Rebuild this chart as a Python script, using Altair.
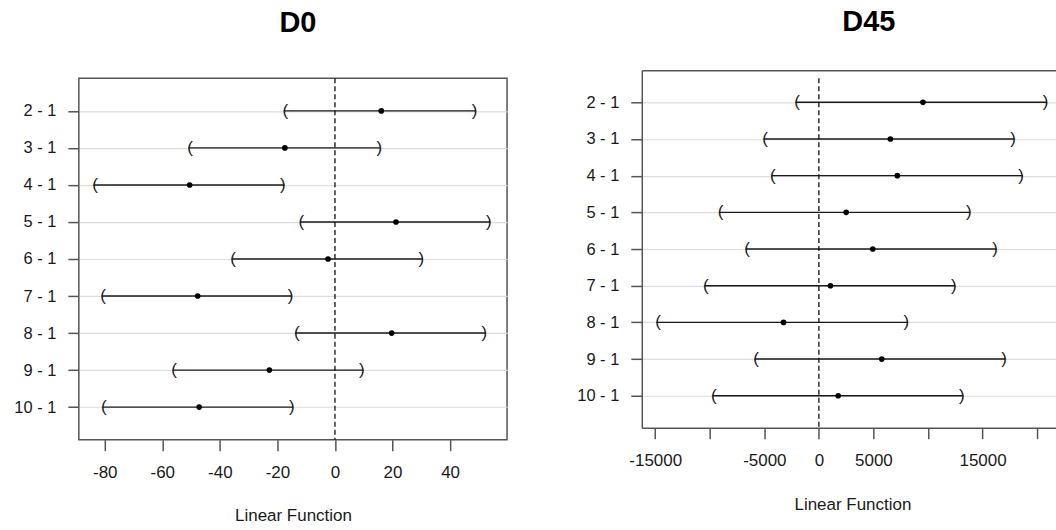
import altair as alt
import pandas as pd

comparisons = ["2 - 1", "3 - 1", "4 - 1", "5 - 1", "6 - 1", "7 - 1", "8 - 1", "9 - 1", "10 - 1"]

d0_est = [16.1, -17.4, -50.5, 21.2, -2.4, -47.7, 19.7, -22.8, -47.2]
d0_lwr = [-17.8, -50.9, -83.9, -12.2, -35.9, -81.1, -13.8, -56.4, -80.8]
d0_upr = [49.0, 15.9, -17.6, 54.0, 30.5, -14.9, 52.4, 9.9, -14.5]

d45_est = [9540, 6550, 7190, 2500, 4940, 1060, -3240, 5760, 1770]
d45_lwr = [-2140, -5060, -4360, -9150, -6710, -10490, -14880, -5890, -9760]
d45_upr = [20910, 17930, 18660, 13870, 16280, 12500, 8140, 17100, 13230]

d0_ticks = [-80, -60, -40, -20, 0, 20, 40]
d45_ticks = [-15000, -10000, -5000, 0, 5000, 10000, 15000, 20000]
d45_hidden = [-10000, 10000, 20000]

FONT = "Liberation Sans"
FRAME = "#555555"
TXT = "#1a1a1a"


def panel(title, est, lwr, upr, domain, ticks, hidden, width, height, pad,
          title_offset, title_dx, title_x, label_pad, title_pad, framed,
          yrange=None, top_offset=0):
    df = pd.DataFrame({"comp": comparisons, "est": est, "lwr": lwr, "upr": upr})
    zero = pd.DataFrame({"zero": [0]})

    xscale = alt.Scale(domain=domain, nice=False, zero=False)
    if yrange is None:
        yscale = alt.Scale(type="point", padding=pad)
    else:
        yscale = alt.Scale(type="point", padding=pad, range=yrange)

    if hidden:
        cond = " || ".join(f"datum.value == {h}" for h in hidden)
        label_expr = f"({cond}) ? '' : '' + datum.value"
    else:
        label_expr = "'' + datum.value"

    xaxis = alt.Axis(
        values=ticks, labelExpr=label_expr, title="Linear Function",
        titleFont=FONT, titleFontSize=17, titleFontWeight="normal", titleColor=TXT,
        labelFont=FONT, labelFontSize=17, labelColor=TXT, labelPadding=label_pad,
        tickSize=11, tickColor=FRAME, tickWidth=1.5, grid=False,
        domain=not framed, domainColor=FRAME, domainWidth=1.5,
        minExtent=40, maxExtent=40, titlePadding=title_pad,
        titleX=title_x, labelFlush=False, labelOverlap=False,
    )
    yaxis = alt.Axis(
        title=None, labelFont=FONT, labelFontSize=16.5, labelColor=TXT,
        labelPadding=12, tickSize=11, tickColor=FRAME, tickWidth=1.5,
        grid=True, gridColor="#dddddd", gridWidth=1.2,
        domain=not framed, domainColor=FRAME, domainWidth=1.5,
    )
    other_x = xaxis if framed else None

    base = alt.Chart(df)
    ycomp = alt.Y("comp:N", sort=comparisons, scale=yscale, axis=yaxis)

    bars = base.mark_rule(color="#1a1a1a", strokeWidth=1.4).encode(
        x=alt.X("lwr:Q", scale=xscale, axis=xaxis), x2="upr:Q", y=ycomp
    )
    top_axis = alt.Axis(orient="top", labels=False, ticks=False, grid=False,
                        title=None, domain=True, domainColor=FRAME, domainWidth=1.5,
                        offset=top_offset)
    zline = alt.Chart(zero).mark_rule(color="#111111", strokeWidth=1.3,
                                      strokeDash=[5, 3]).encode(
        x=alt.X("zero:Q", scale=xscale, axis=(xaxis if framed else top_axis))
    )
    pts = base.mark_circle(size=32, color="black", opacity=1).encode(
        x=alt.X("est:Q", scale=xscale, axis=other_x), y=ycomp
    )
    lp = base.mark_text(text="(", font=FONT, fontSize=17, dx=1.5, color="#1a1a1a",
                        baseline="middle").encode(
        x=alt.X("lwr:Q", scale=xscale, axis=other_x), y=ycomp
    )
    rp = base.mark_text(text=")", font=FONT, fontSize=17, dx=-1.5, color="#1a1a1a",
                        baseline="middle").encode(
        x=alt.X("upr:Q", scale=xscale, axis=other_x), y=ycomp
    )

    layer = alt.layer(bars, zline, pts, lp, rp)
    if not framed:
        layer = layer.resolve_axis(x="independent")
    view = (alt.ViewBackground(stroke=FRAME, strokeWidth=1.5) if framed
            else alt.ViewBackground(stroke=None))
    return layer.properties(
        width=width, height=height, view=view,
        title=alt.TitleParams(title, font=FONT, fontSize=29, fontWeight="bold",
                              color="#000000", anchor="middle", frame="group",
                              baseline="alphabetic", offset=title_offset, dx=title_dx),
    )


left = panel("D0", d0_est, d0_lwr, d0_upr, [-89.0, 59.8], d0_ticks, [],
             429, 362, 0.879, 17, 5, 214.5, 14, 27.5, True)
right = panel("D45", d45_est, d45_lwr, d45_upr, [-16230, 21730], d45_ticks, d45_hidden,
              415, 350, 0.871, 10, 20, 211, 14, 28.5, False,
              yrange=[-8, 350], top_offset=8)

chart = alt.concat(left, right, columns=2, spacing=68, align="none").properties(
    padding={"left": 13, "top": 7, "right": 0, "bottom": 0},
    background="white",
).configure_view(stroke=FRAME, strokeWidth=1.5)

chart.save("out.html", embed_options={"renderer": "svg", "actions": False})
